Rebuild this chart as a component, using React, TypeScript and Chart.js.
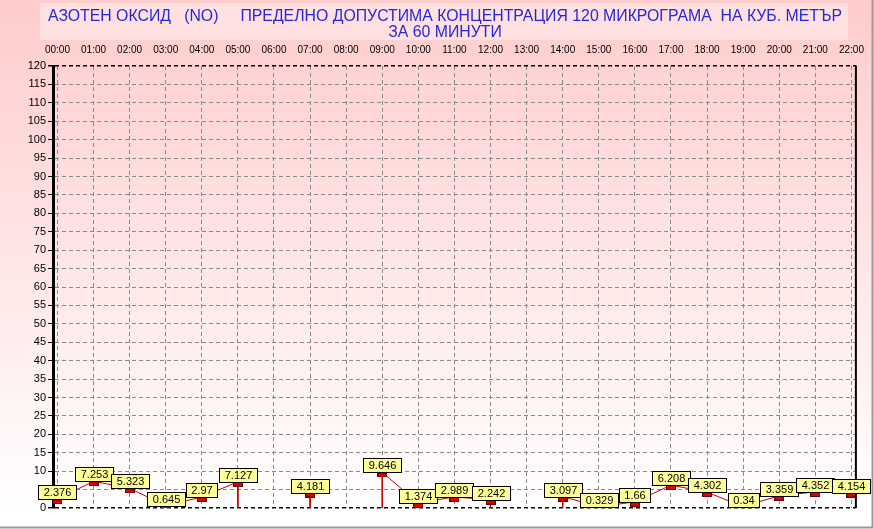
import React, { useEffect, useRef } from 'react';
import { Chart, registerables } from 'chart.js';

Chart.register(...registerables);

const HOURS: string[] = [
  '00:00', '01:00', '02:00', '03:00', '04:00', '05:00', '06:00', '07:00', '08:00', '09:00', '10:00', '11:00',
  '12:00', '13:00', '14:00', '15:00', '16:00', '17:00', '18:00', '19:00', '20:00', '21:00', '22:00',
];
const NO_VALUES: (number | null)[] = [
  2.376, 7.253, 5.323, 0.645, 2.97, 7.127, null, 4.181, null, 9.646, 1.374, 2.989,
  2.242, null, 3.097, 0.329, 1.66, 6.208, 4.302, 0.34, 3.359, 4.352, 4.154,
];
const Y_MIN = 0;
const Y_MAX = 120;
const Y_STEP = 5;
const TITLE_LINES: string[] = [
  'АЗОТЕН ОКСИД   (NO)     ПРЕДЕЛНО ДОПУСТИМА КОНЦЕНТРАЦИЯ 120 МИКРОГРАМА  НА КУБ. МЕТЪР',
  'ЗА 60 МИНУТИ',
];

const W = 874;
const H = 529;

export default function App() {
  const ref = useRef<HTMLCanvasElement>(null);

  useEffect(() => {
    document.body.style.margin = '0';
    const canvas = ref.current;
    if (!canvas) return;

    // marker image: red rectangle occupying the lower half so its top sits on the value
    const marker = document.createElement('canvas');
    marker.width = 10;
    marker.height = 10;
    const mctx = marker.getContext('2d')!;
    mctx.fillStyle = '#e00000';
    mctx.fillRect(0, 5, 10, 5);
    mctx.strokeStyle = '#6a0000';
    mctx.lineWidth = 1;
    mctx.strokeRect(0.5, 5.5, 9, 4);

    const mainData = NO_VALUES.map((v, i) => ({ x: i, y: v }));
    const drops: { x: number; y: number | null }[] = [];
    NO_VALUES.forEach((v, i) => {
      if (v === null) return;
      const prevMissing = i > 0 && NO_VALUES[i - 1] === null;
      const nextMissing = i < NO_VALUES.length - 1 && NO_VALUES[i + 1] === null;
      if (prevMissing || nextMissing) {
        drops.push({ x: i, y: v }, { x: i, y: Y_MIN }, { x: i, y: null });
      }
    });

    const bgPlugin = {
      id: 'bgPlugin',
      beforeDraw(chart: any) {
        const { ctx } = chart;
        ctx.save();
        const g = ctx.createLinearGradient(0, 0, 0, 512);
        g.addColorStop(0, '#ffcccc');
        g.addColorStop(1, '#ffffff');
        ctx.fillStyle = g;
        ctx.fillRect(0, 0, W, H);
        // title box
        ctx.fillStyle = 'rgba(255,236,236,0.6)';
        ctx.fillRect(40, 3, 808, 37);
        // title text
        ctx.fillStyle = '#2828d8';
        ctx.font = '16px "Liberation Sans", Arial, sans-serif';
        ctx.textAlign = 'center';
        ctx.textBaseline = 'alphabetic';
        const w0 = ctx.measureText(TITLE_LINES[0]).width;
        const sx = 794 / w0;
        TITLE_LINES.forEach((line, k) => {
          ctx.save();
          ctx.translate(445, 21 + k * 16);
          ctx.scale(sx, 1);
          ctx.fillText(line, 0, 0);
          ctx.restore();
        });
        ctx.restore();
      },
      afterDatasetsDraw(chart: any) {
        const { ctx, chartArea } = chart;
        ctx.save();
        // right border
        ctx.strokeStyle = '#000';
        ctx.lineWidth = 2;
        ctx.beginPath();
        ctx.moveTo(chartArea.right - 0.5, chartArea.top);
        ctx.lineTo(chartArea.right - 0.5, chartArea.bottom);
        ctx.stroke();
        // value labels
        const meta = chart.getDatasetMeta(0);
        ctx.font = '11px "Liberation Sans", Arial, sans-serif';
        ctx.textAlign = 'center';
        ctx.textBaseline = 'middle';
        NO_VALUES.forEach((v, i) => {
          if (v === null) return;
          const pt = meta.data[i];
          const text = String(v);
          const bw = Math.round(ctx.measureText(text).width + 10);
          const bh = 14;
          const x = Math.round(pt.x - bw / 2) + 0.5;
          const y = Math.round(pt.y - bh) + 0.5;
          ctx.fillStyle = '#ffff99';
          ctx.fillRect(x, y, bw, bh);
          ctx.strokeStyle = '#000';
          ctx.lineWidth = 1;
          ctx.strokeRect(x, y, bw, bh);
          ctx.fillStyle = '#000';
          ctx.fillText(text, x + bw / 2, y + bh / 2 + 0.5);
        });
        // grey frame
        ctx.strokeStyle = '#9a9a9a';
        ctx.lineWidth = 2;
        ctx.beginPath();
        ctx.moveTo(0, H - 1.5);
        ctx.lineTo(W - 1.5, H - 1.5);
        ctx.lineTo(W - 1.5, 0);
        ctx.stroke();
        ctx.restore();
      },
    };

    const chart = new Chart(canvas, {
      type: 'line',
      data: {
        datasets: [
          {
            data: mainData as any,
            borderColor: '#c80000',
            borderWidth: 1,
            pointStyle: marker as any,
            pointRadius: 5,
            spanGaps: false,
            tension: 0,
          },
          {
            data: drops as any,
            borderColor: '#c80000',
            borderWidth: 1,
            pointRadius: 0,
            spanGaps: false,
            tension: 0,
          },
        ],
      },
      options: {
        animation: false,
        responsive: false,
        events: [],
        layout: { padding: { top: 0, left: 0, right: 8, bottom: 21 } },
        plugins: { legend: { display: false }, tooltip: { enabled: false }, title: { display: false } },
        scales: {
          x: {
            type: 'linear',
            position: 'top',
            min: -0.123,
            max: 22.137,
            afterBuildTicks: (scale: any) => {
              scale.ticks = HOURS.map((_, i) => ({ value: i }));
            },
            afterFit: (scale: any) => {
              scale.height = 66;
            },
            ticks: {
              autoSkip: false,
              maxRotation: 0,
              minRotation: 0,
              padding: 10,
              color: '#000',
              font: { family: '"Liberation Sans", Arial, sans-serif', size: 10 },
              callback: (value: any) => HOURS[Math.round(Number(value))] ?? '',
            },
            grid: {
              color: '#8a8a8a',
              lineWidth: 1,
              drawTicks: false,
            },
            border: { display: false, dash: [4, 3] },
          },
          y: {
            type: 'linear',
            min: Y_MIN,
            max: Y_MAX,
            afterFit: (scale: any) => {
              scale.width = 53;
            },
            ticks: {
              stepSize: Y_STEP,
              padding: 2,
              color: '#000',
              font: { family: '"Liberation Sans", Arial, sans-serif', size: 11 },
            },
            grid: {
              color: (c: any) => (c.tick && (c.tick.value === Y_MIN || c.tick.value === Y_MAX) ? '#000' : '#8a8a8a'),
              lineWidth: (c: any) => (c.tick && (c.tick.value === Y_MIN || c.tick.value === Y_MAX) ? 1.5 : 1),
              drawTicks: true,
              tickLength: 5,
              tickColor: '#000',
              tickBorderDash: [],
            } as any,
            border: { display: true, color: '#000', width: 3, dash: [4, 3] },
          },
        },
      },
      plugins: [bgPlugin],
    });

    return () => chart.destroy();
  }, []);

  return <canvas ref={ref} width={W} height={H} style={{ display: 'block', width: W, height: H }} />;
}
